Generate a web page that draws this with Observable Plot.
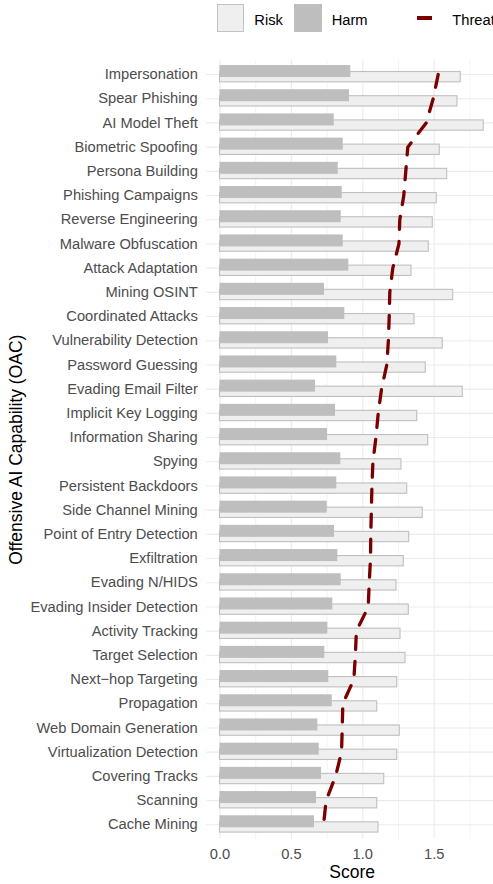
<!DOCTYPE html>
<html><head><meta charset="utf-8">
<script src="https://cdn.jsdelivr.net/npm/d3@7"></script>
<script src="https://cdn.jsdelivr.net/npm/@observablehq/plot@0.6"></script>
<style>
body{margin:0;background:#fff;overflow:hidden;font-family:"Liberation Sans",Arial,sans-serif;}
#legend{position:relative;height:40px;width:493px;}
#legend div{position:absolute;}
.lt{font-size:14.7px;line-height:17px;top:11.5px;color:#000;white-space:nowrap;}
#chart{width:493px;overflow:hidden;}
#chart svg{max-width:none !important;width:505px !important;height:844px !important;display:block;}
</style></head><body>
<div id="legend">
  <div style="left:217.3px;top:4.3px;width:27px;height:27.4px;box-sizing:border-box;border:1.1px solid #c2c2c2;background:#efefef;"></div>
  <div class="lt" style="left:254.3px;">Risk</div>
  <div style="left:294.3px;top:4.3px;width:27.7px;height:27.4px;background:#bebebe;"></div>
  <div class="lt" style="left:331.7px;">Harm</div>
  <div style="left:417.3px;top:16.3px;width:14.4px;height:3.4px;background:#7a0000;"></div>
  <div class="lt" style="left:452.3px;">Threat</div>
</div>
<div id="chart"></div>
<script>
const categories = ["Impersonation","Spear Phishing","AI Model Theft","Biometric Spoofing","Persona Building","Phishing Campaigns","Reverse Engineering","Malware Obfuscation","Attack Adaptation","Mining OSINT","Coordinated Attacks","Vulnerability Detection","Password Guessing","Evading Email Filter","Implicit Key Logging","Information Sharing","Spying","Persistent Backdoors","Side Channel Mining","Point of Entry Detection","Exfiltration","Evading N/HIDS","Evading Insider Detection","Activity Tracking","Target Selection","Next\u2212hop Targeting","Propagation","Web Domain Generation","Virtualization Detection","Covering Tracks","Scanning","Cache Mining"];
const harm = [0.916,0.907,0.800,0.863,0.828,0.856,0.849,0.863,0.902,0.732,0.874,0.760,0.818,0.669,0.809,0.753,0.846,0.818,0.751,0.802,0.825,0.849,0.790,0.755,0.734,0.762,0.786,0.685,0.695,0.711,0.676,0.662];
const risk = [1.686,1.663,1.847,1.539,1.591,1.518,1.490,1.462,1.341,1.633,1.362,1.560,1.441,1.700,1.381,1.458,1.271,1.311,1.420,1.325,1.287,1.236,1.322,1.264,1.299,1.241,1.101,1.259,1.241,1.150,1.101,1.110];
const threat = [1.528,1.493,1.444,1.315,1.301,1.287,1.259,1.253,1.210,1.189,1.185,1.179,1.168,1.131,1.108,1.092,1.071,1.064,1.060,1.056,1.054,1.045,1.038,0.955,0.948,0.937,0.860,0.856,0.851,0.809,0.743,0.725];
const xTicks = [0, 0.5, 1, 1.5];
const xMinor = [0.25, 0.75, 1.25, 1.75];

const data = categories.map((c, i) => ({c, harm: harm[i], risk: risk[i], threat: threat[i]}));
const font = '"Liberation Sans", Arial, sans-serif';

const plot = Plot.plot({
  width: 505, height: 844,
  marginLeft: 206.3, marginRight: 8, marginTop: 19.5, marginBottom: 45.2,
  style: {fontFamily: font, fontSize: "14.7px", background: "transparent", overflow: "visible", maxWidth: "none"},
  x: {domain: [0, 1.5], range: [219.5, 433.7]},
  y: {domain: categories, paddingInner: 0, paddingOuter: 0.1, round: false},
  marks: [
    Plot.ruleX(xMinor, {stroke: "#ebebeb", strokeWidth: 0.6}),
    Plot.ruleX(xTicks, {stroke: "#ebebeb", strokeWidth: 1.1}),
    Plot.ruleY(categories, {stroke: "#ebebeb", strokeWidth: 1.1}),
    Plot.barX(data, {y: "c", x: "risk", fill: "#efefef", stroke: "#bfbfbf", strokeWidth: 1.1, insetTop: 9.6, insetBottom: 4.3}),
    Plot.barX(data, {y: "c", x: "harm", fill: "#bebebe", insetTop: 3.1, insetBottom: 9.1}),
    Plot.line(data, {y: "c", x: "threat", stroke: "#7a0000", strokeWidth: 3.3, strokeDasharray: "13,12"}),
    Plot.axisX(xTicks, {tickSize: 0, tickPadding: 9.3, tickFormat: d3.format(".1f"), label: null, fill: "#4d4d4d", fontSize: 14.7}),
    Plot.axisY({tickSize: 0, tickPadding: 9, label: null, fill: "#4d4d4d", fontSize: 14.7}),
    Plot.text(["Score"], {frameAnchor: "bottom", dy: 33, fontSize: 17.5, fill: "#000", lineAnchor: "middle"}),
    Plot.text(["Offensive AI Capability (OAC)"], {frameAnchor: "left", rotate: -90, dx: -190.5, fontSize: 17.5, fill: "#000", lineAnchor: "middle", textAnchor: "middle"})
  ]
});
document.getElementById("chart").appendChild(plot);
</script>
</body></html>
